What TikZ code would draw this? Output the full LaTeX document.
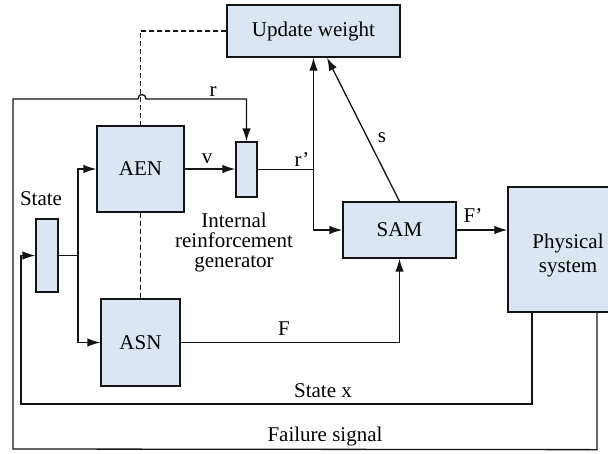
\documentclass[tikz,border=0pt]{standalone}
\usepackage{fontspec}
\setmainfont{Liberation Serif}
\usetikzlibrary{arrows.meta}
\definecolor{boxfill}{RGB}{220,230,242}
\definecolor{ink}{RGB}{20,20,20}
\begin{document}
\begin{tikzpicture}[x=1pt,y=-1pt,
  font=\fontsize{21}{20}\selectfont,
  blk/.style={draw=ink,fill=boxfill,line width=1.3pt,inner sep=0pt},
  wire/.style={draw=ink,line width=1.3pt},
  arr/.style={wire,-{Latex[length=13pt,width=8.5pt]}},
  dashline/.style={draw=ink,line width=1.2pt,dash pattern=on 5pt off 3pt},
  lbl/.style={inner sep=0pt,anchor=base}]
\clip (0,0) rectangle (608,453);
\fill[white] (0,0) rectangle (608,453);

% blocks
\node[blk,minimum width=173pt,minimum height=52pt] (upd) at (313.5,31) {Update weight};
\node[blk,minimum width=87pt,minimum height=86pt] (aen) at (140.5,169) {AEN};
\node[blk,minimum width=21pt,minimum height=55pt] (irg) at (246.5,169.5) {};
\node[blk,minimum width=113pt,minimum height=56pt] (sam) at (399.5,230) {SAM};
\node[blk,minimum width=120pt,minimum height=125pt,
      label={[inner sep=0pt,align=center,yshift=-6pt,font=\fontsize{21}{24}\selectfont]center:Physical\\system}]
      (phys) at (568,249.5) {};
\node[blk,minimum width=22pt,minimum height=73pt] (st) at (47,255.5) {};
\node[blk,minimum width=79pt,minimum height=87pt] (asn) at (140.5,342.5) {ASN};

% helper points
\coordinate (split) at (78,255.5);
\coordinate (rj) at (irg.east -| upd.south);

% weight-update links
\draw[dashline] (upd.west) -| (aen.north);
\draw[dashline] (aen.south) -- (asn.north);

% failure signal loop, hopping over the dashed link
\draw[arr] ([xshift=29pt]phys.south) -- ++(0,137) -- (13,449) -- (13,99) -- (138,99)
  .. controls (138,93) and (146,93) .. (146,99) -| (irg.north);

% state feedback
\draw[arr] ([xshift=-36pt]phys.south) |- (21,404) |- (st.west);
\draw[wire] (st.east) -- (split);
\draw[arr] (split) |- (aen.west);
\draw[arr] (split) |- (asn.west);

% forward paths
\draw[arr] (aen.east) -- (aen.east -| irg.west);
\draw[wire] (irg.east) -- (rj);
\draw[arr] (rj) -- (upd.south);
\draw[arr] (rj) |- (sam.west);
\draw[arr] (sam.north) -- ([xshift=13.5pt]upd.south);
\draw[arr] (sam.east) -- (sam.east -| phys.west);
\draw[arr] (asn.east) -| (sam.south);

% signal labels
\node[lbl] (lr) at (213,96) {r};
\node[lbl] (lv) at (207,163) {v};
\node[lbl] (lrp) at (302,166) {r’};
\node[lbl] (ls) at (382,142) {s};
\node[lbl] (lfp) at (473,222) {F’};
\node[lbl] (lf) at (284,335) {F};
\node[lbl] (lstate) at (41,205) {State};
\node[lbl] (lsx) at (323,397) {State x};
\node[lbl] (lfail) at (325,441) {Failure signal};
\node[inner sep=0pt,align=center] (lirg) at (234,242) {Internal\\reinforcement\\generator};
\end{tikzpicture}
\end{document}
